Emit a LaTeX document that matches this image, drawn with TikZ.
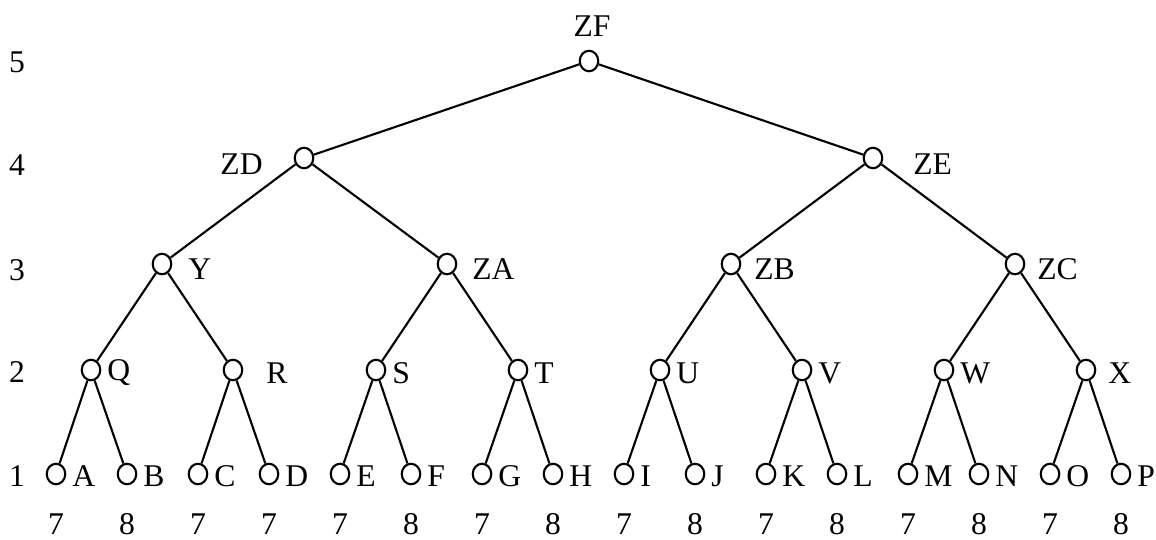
\documentclass[tikz,border=0pt]{standalone}
\usepackage{fontspec}
\setmainfont{Liberation Serif}
\usepackage{tikz}
\usetikzlibrary{shapes.geometric}

\begin{document}
\begin{tikzpicture}[x=0.02cm, y=-0.02cm, font=\fontsize{18}{21}\selectfont,
    vert/.style={ellipse, draw, line width=1.2pt, minimum width=0.37cm, minimum height=0.41cm, inner sep=0pt},
    lbl/.style={inner sep=0pt, anchor=west},
    lvl/.style={inner sep=0pt}]
      \useasboundingbox (0,0) rectangle (1156,539);

      % level numbers on the left
      \node[lvl] (l5) at (17, 62) {5};
      \node[lvl] (l4) at (17, 165) {4};
      \node[lvl] (l3) at (17, 270) {3};
      \node[lvl] (l2) at (17, 372) {2};
      \node[lvl] (l1) at (17, 476) {1};

      % leaves
      \node[vert] (A) at (56, 474) {};
      \node[vert] (B) at (127, 474) {};
      \node[vert] (C) at (198, 474) {};
      \node[vert] (D) at (269, 474) {};
      \node[vert] (E) at (340, 474) {};
      \node[vert] (F) at (411, 474) {};
      \node[vert] (G) at (482, 474) {};
      \node[vert] (H) at (553, 474) {};
      \node[vert] (I) at (624, 474) {};
      \node[vert] (J) at (695, 474) {};
      \node[vert] (K) at (766, 474) {};
      \node[vert] (L) at (837, 474) {};
      \node[vert] (M) at (908, 474) {};
      \node[vert] (N) at (979, 474) {};
      \node[vert] (O) at (1050, 474) {};
      \node[vert] (P) at (1121, 474) {};

      % inner nodes
      \node[vert] (Q) at (91, 370) {};
      \node[vert] (R) at (233, 370) {};
      \node[vert] (S) at (376, 370) {};
      \node[vert] (T) at (518, 370) {};
      \node[vert] (U) at (660, 370) {};
      \node[vert] (V) at (802, 370) {};
      \node[vert] (W) at (944, 370) {};
      \node[vert] (X) at (1086, 370) {};
      \node[vert] (Y) at (162, 264) {};
      \node[vert] (ZA) at (447, 264) {};
      \node[vert] (ZB) at (731, 264) {};
      \node[vert] (ZC) at (1015, 264) {};
      \node[vert] (ZD) at (304, 158) {};
      \node[vert] (ZE) at (873, 158) {};
      \node[vert] (ZF) at (589, 61) {};

      % names
      \foreach \v in {A,B,C,D,E,F,G,H,I,J,K,L,M,N,O,P}
        \node[lbl] (n\v) at ([xshift=16*0.02cm] \v.center |- 0,476) {\v};
      \foreach \v in {Q,S,T,U,V,W}
        \node[lbl] (n\v) at ([xshift=16*0.02cm] \v.center |- 0,373) {\v};
      \node[lbl] (nR) at (266, 373) {R};
      \node[lbl] (nX) at (1108, 373) {X};
      \node[lbl] (nY) at (188, 269) {Y};
      \node[lbl] (nZA) at (472, 269) {ZA};
      \node[lbl] (nZB) at (754, 269) {ZB};
      \node[lbl] (nZC) at (1037, 269) {ZC};
      \node[lbl, anchor=east] (nZD) at (263, 164) {ZD};
      \node[lbl] (nZE) at (913, 164) {ZE};
      \node[lvl] (nZF) at (592, 26) {ZF};

      % values under the leaves
      \node[lvl] (vA) at (56, 524) {7};
      \node[lvl] (vB) at (127, 524) {8};
      \node[lvl] (vC) at (198, 524) {7};
      \node[lvl] (vD) at (269, 524) {7};
      \node[lvl] (vE) at (340, 524) {7};
      \node[lvl] (vF) at (411, 524) {8};
      \node[lvl] (vG) at (482, 524) {7};
      \node[lvl] (vH) at (553, 524) {8};
      \node[lvl] (vI) at (624, 524) {7};
      \node[lvl] (vJ) at (695, 524) {8};
      \node[lvl] (vK) at (766, 524) {7};
      \node[lvl] (vL) at (837, 524) {8};
      \node[lvl] (vM) at (908, 524) {7};
      \node[lvl] (vN) at (979, 524) {8};
      \node[lvl] (vO) at (1050, 524) {7};
      \node[lvl] (vP) at (1121, 524) {8};

      \draw[line width=1.2pt] (ZF) edge (ZD);
      \draw[line width=1.2pt] (ZF) edge (ZE);
      \draw[line width=1.2pt] (ZD) edge (Y);
      \draw[line width=1.2pt] (ZD) edge (ZA);
      \draw[line width=1.2pt] (ZE) edge (ZB);
      \draw[line width=1.2pt] (ZE) edge (ZC);
      \draw[line width=1.2pt] (Y) edge (Q);
      \draw[line width=1.2pt] (Y) edge (R);
      \draw[line width=1.2pt] (ZA) edge (S);
      \draw[line width=1.2pt] (ZA) edge (T);
      \draw[line width=1.2pt] (ZB) edge (U);
      \draw[line width=1.2pt] (ZB) edge (V);
      \draw[line width=1.2pt] (ZC) edge (W);
      \draw[line width=1.2pt] (ZC) edge (X);
      \draw[line width=1.2pt] (Q) edge (A);
      \draw[line width=1.2pt] (Q) edge (B);
      \draw[line width=1.2pt] (R) edge (C);
      \draw[line width=1.2pt] (R) edge (D);
      \draw[line width=1.2pt] (S) edge (E);
      \draw[line width=1.2pt] (S) edge (F);
      \draw[line width=1.2pt] (T) edge (G);
      \draw[line width=1.2pt] (T) edge (H);
      \draw[line width=1.2pt] (U) edge (I);
      \draw[line width=1.2pt] (U) edge (J);
      \draw[line width=1.2pt] (V) edge (K);
      \draw[line width=1.2pt] (V) edge (L);
      \draw[line width=1.2pt] (W) edge (M);
      \draw[line width=1.2pt] (W) edge (N);
      \draw[line width=1.2pt] (X) edge (O);
      \draw[line width=1.2pt] (X) edge (P);
    \end{tikzpicture}
\end{document}
